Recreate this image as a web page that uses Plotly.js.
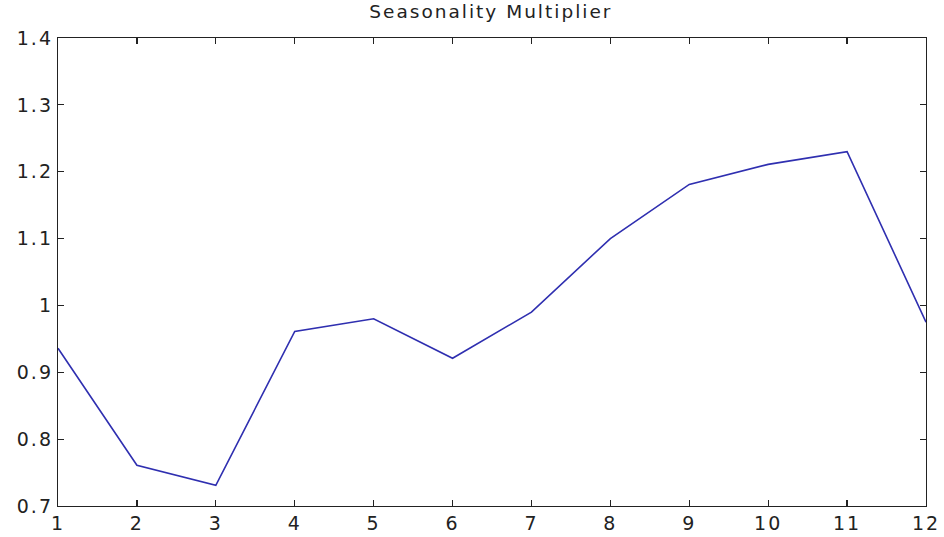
<!DOCTYPE html>
<html>
<head>
<meta charset="utf-8">
<script src="https://cdn.plot.ly/plotly-3.0.1.min.js"></script>
<style>
html, body { margin: 0; padding: 0; background: #fff; }
#chart { width: 944px; height: 537px; }
#chart svg text { letter-spacing: 2px; }
</style>
</head>
<body>
<div id="chart"></div>
<script>
const months = [1, 2, 3, 4, 5, 6, 7, 8, 9, 10, 11, 12];
const multiplier = [0.936, 0.761, 0.731, 0.961, 0.980, 0.921, 0.990, 1.100, 1.181, 1.211, 1.230, 0.975];
const xTicks = [1, 2, 3, 4, 5, 6, 7, 8, 9, 10, 11, 12];
const yTicks = [0.7, 0.8, 0.9, 1.0, 1.1, 1.2, 1.3, 1.4];
const yTickLabels = ['0.7', '0.8', '0.9', '1', '1.1', '1.2', '1.3', '1.4'];

const trace = {
  x: months,
  y: multiplier,
  type: 'scatter',
  mode: 'lines',
  line: { color: '#2f2fb0', width: 1.6 },
  hoverinfo: 'x+y'
};

const axisCommon = {
  showline: true,
  linecolor: '#222',
  linewidth: 1.2,
  mirror: 'allticks',
  ticks: 'inside',
  ticklen: 6,
  tickwidth: 1.2,
  tickcolor: '#222',
  showgrid: false,
  zeroline: false,
  tickfont: { family: 'DejaVu Sans, sans-serif', size: 19, color: '#222' }
};

const layout = {
  width: 944,
  height: 537,
  margin: { l: 58, r: 18, t: 38, b: 31, pad: 0 },
  paper_bgcolor: '#fff',
  plot_bgcolor: '#fff',
  showlegend: false,
  title: {
    text: 'Seasonality Multiplier',
    font: { family: 'DejaVu Sans, sans-serif', size: 18.5, color: '#222' },
    x: 0.52, xanchor: 'center',
    y: 0.978, yanchor: 'middle'
  },
  xaxis: Object.assign({}, axisCommon, {
    range: [1, 12],
    tickmode: 'array',
    tickvals: xTicks,
    ticktext: xTicks.map(String)
  }),
  yaxis: Object.assign({}, axisCommon, {
    range: [0.7, 1.4],
    tickmode: 'array',
    tickvals: yTicks,
    ticktext: yTickLabels
  })
};

Plotly.newPlot('chart', [trace], layout, { displayModeBar: false, staticPlot: true });
</script>
</body>
</html>
